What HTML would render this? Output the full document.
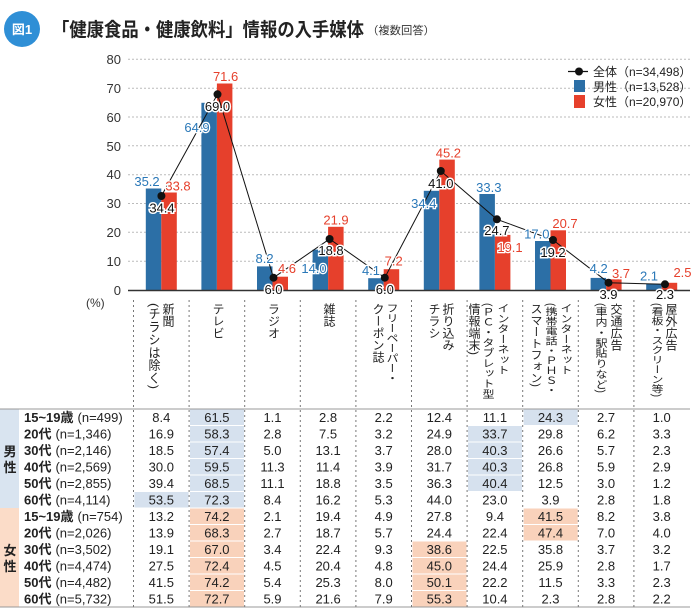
<!DOCTYPE html>
<html><head><meta charset="utf-8"><style>
html,body{margin:0;padding:0;background:#fff;}
svg{display:block;font-family:"Liberation Sans","Noto Sans CJK JP",sans-serif;}
</style></head><body>
<svg width="700" height="615" viewBox="0 0 700 615" xmlns="http://www.w3.org/2000/svg">
<!-- title -->
<circle cx="22" cy="29" r="18" fill="#2f8fd6"/>
<text x="22" y="34" font-size="13" font-weight="bold" fill="#fff" text-anchor="middle">図1</text>
<text x="52" y="36" font-size="19" font-weight="bold" fill="#222" textLength="312" lengthAdjust="spacingAndGlyphs">「健康食品・健康飲料」情報の入手媒体</text>
<text x="367" y="34" font-size="11" fill="#333" textLength="68" lengthAdjust="spacingAndGlyphs">（複数回答）</text>

<!-- gridlines -->
<g stroke="#bbb" stroke-width="1" stroke-dasharray="2,2">
<line x1="128" x2="690" y1="59.3" y2="59.3"/><line x1="128" x2="690" y1="88.2" y2="88.2"/>
<line x1="128" x2="690" y1="117" y2="117"/><line x1="128" x2="690" y1="145.8" y2="145.8"/>
<line x1="128" x2="690" y1="174.7" y2="174.7"/><line x1="128" x2="690" y1="203.5" y2="203.5"/>
<line x1="128" x2="690" y1="232.3" y2="232.3"/><line x1="128" x2="690" y1="261.2" y2="261.2"/>
</g>
<g font-size="13" fill="#333" text-anchor="end">
<text x="121" y="64">80</text><text x="121" y="93">70</text><text x="121" y="122">60</text>
<text x="121" y="151">50</text><text x="121" y="179">40</text><text x="121" y="208">30</text>
<text x="121" y="237">20</text><text x="121" y="266">10</text><text x="121" y="295">0</text>
</g>
<text x="86" y="307" font-size="12" fill="#333">(%)</text>

<!-- bars -->
<g fill="#2c6fa6">
<rect x="145.8" y="188.5" width="15.5" height="101.5"/>
<rect x="201.4" y="102.8" width="15.5" height="187.2"/>
<rect x="257" y="266.4" width="15.5" height="23.6"/>
<rect x="312.6" y="249.6" width="15.5" height="40.4"/>
<rect x="368.2" y="278.2" width="15.5" height="11.8"/>
<rect x="423.8" y="190.8" width="15.5" height="99.2"/>
<rect x="479.4" y="194" width="15.5" height="96"/>
<rect x="535" y="241" width="15.5" height="49"/>
<rect x="590.6" y="277.9" width="15.5" height="12.1"/>
<rect x="646.2" y="283.9" width="15.5" height="6.1"/>
</g>
<g fill="#e6402c">
<rect x="161.3" y="192.5" width="15.5" height="97.5"/>
<rect x="216.9" y="83.5" width="15.5" height="206.5"/>
<rect x="272.5" y="276.7" width="15.5" height="13.3"/>
<rect x="328.1" y="226.8" width="15.5" height="63.2"/>
<rect x="383.7" y="269.2" width="15.5" height="20.8"/>
<rect x="439.3" y="159.6" width="15.5" height="130.4"/>
<rect x="494.9" y="234.9" width="15.5" height="55.1"/>
<rect x="550.5" y="230.3" width="15.5" height="59.7"/>
<rect x="606.1" y="279.3" width="15.5" height="10.7"/>
<rect x="661.7" y="282.8" width="15.5" height="7.2"/>
</g>
<line x1="128" x2="690" y1="290.5" y2="290.5" stroke="#333" stroke-width="1.5"/>

<!-- total line -->
<polyline fill="none" stroke="#111" stroke-width="1" points="161.4,196 217.5,94.3 273.5,277.7 329.6,239 384.8,277.7 440.8,171 496.9,219.3 553,240 608.5,282.7 665,284.3"/>
<g fill="#111">
<circle cx="161.4" cy="196" r="4"/><circle cx="217.5" cy="94.3" r="4"/><circle cx="273.5" cy="277.7" r="4"/>
<circle cx="329.6" cy="239" r="4"/><circle cx="384.8" cy="277.7" r="4"/><circle cx="440.8" cy="171" r="4"/>
<circle cx="496.9" cy="219.3" r="4"/><circle cx="553" cy="240" r="4"/><circle cx="608.5" cy="282.7" r="4"/>
<circle cx="665" cy="284.3" r="4"/>
</g>

<!-- value labels -->
<g font-size="13" text-anchor="middle" fill="#2a78b8" stroke="#fff" stroke-width="2.5" paint-order="stroke">
<text x="147" y="186">35.2</text><text x="197" y="132">64.9</text><text x="264.6" y="263">8.2</text>
<text x="314" y="273">14.0</text><text x="371" y="275">4.1</text><text x="423.8" y="208">34.4</text>
<text x="488.8" y="192">33.3</text><text x="536.8" y="238.5">17.0</text><text x="598.7" y="273">4.2</text>
<text x="649" y="280.5">2.1</text>
</g>
<g font-size="13" text-anchor="middle" fill="#e6402c" stroke="#fff" stroke-width="2.5" paint-order="stroke">
<text x="178" y="190.5">33.8</text><text x="225.6" y="81">71.6</text><text x="287" y="273">4.6</text>
<text x="336" y="224.5">21.9</text><text x="393.7" y="265.5">7.2</text><text x="448.4" y="157.5">45.2</text>
<text x="510" y="252">19.1</text><text x="565" y="228">20.7</text><text x="621" y="278">3.7</text>
<text x="682.5" y="277">2.5</text>
</g>
<g font-size="13" text-anchor="middle" fill="#111" stroke="#fff" stroke-width="3" paint-order="stroke">
<text x="162" y="212.5">34.4</text><text x="217.5" y="111">69.0</text><text x="273.5" y="294">6.0</text>
<text x="331" y="255">18.8</text><text x="384.8" y="294">6.0</text><text x="440.8" y="188">41.0</text>
<text x="496.9" y="235">24.7</text><text x="553" y="257">19.2</text><text x="608.5" y="299">3.9</text>
<text x="665" y="299">2.3</text>
</g>

<!-- legend -->
<line x1="568" x2="588" y1="71.5" y2="71.5" stroke="#111" stroke-width="1.2"/>
<circle cx="579" cy="71.5" r="4" fill="#111"/>
<rect x="574" y="80" width="11" height="12" fill="#2c6fa6"/>
<rect x="574" y="95" width="11" height="13" fill="#e6402c"/>
<g font-size="12" fill="#222">
<text x="593" y="76">全体（n=34,498）</text>
<text x="593" y="91">男性（n=13,528）</text>
<text x="593" y="106">女性（n=20,970）</text>
</g>

<!-- table backgrounds -->
<rect x="0" y="409" width="19" height="99" fill="#d9e4f0"/>
<rect x="0" y="508" width="19" height="99" fill="#fbdcc8"/>
<g fill="#d6e1ee">
<rect x="190" y="409.5" width="54" height="15.5"/><rect x="190" y="426" width="54" height="15.5"/>
<rect x="190" y="442.5" width="54" height="15.5"/><rect x="190" y="459" width="54" height="15.5"/>
<rect x="190" y="475.5" width="54" height="15.5"/><rect x="190" y="492" width="54" height="15.5"/>
<rect x="134.5" y="492" width="54" height="15.5"/>
<rect x="523.7" y="409.5" width="54" height="15.5"/>
<rect x="468" y="426" width="54" height="15.5"/><rect x="468" y="442.5" width="54" height="15.5"/>
<rect x="468" y="459" width="54" height="15.5"/><rect x="468" y="475.5" width="54" height="15.5"/>
</g>
<g fill="#f9d2bb">
<rect x="190" y="508.5" width="54" height="15.5"/><rect x="190" y="525" width="54" height="15.5"/>
<rect x="190" y="541.5" width="54" height="15.5"/><rect x="190" y="558" width="54" height="15.5"/>
<rect x="190" y="574.5" width="54" height="15.5"/><rect x="190" y="591" width="54" height="15.5"/>
<rect x="523.7" y="508.5" width="54" height="15.5"/><rect x="523.7" y="525" width="54" height="15.5"/>
<rect x="412.5" y="541.5" width="54" height="15.5"/><rect x="412.5" y="558" width="54" height="15.5"/>
<rect x="412.5" y="574.5" width="54" height="15.5"/><rect x="412.5" y="591" width="54" height="15.5"/>
</g>
<line x1="0" x2="690" y1="409" y2="409" stroke="#999" stroke-width="1"/>
<line x1="0" x2="690" y1="607" y2="607" stroke="#999" stroke-width="1"/>

<!-- dividers -->
<g stroke="#777" stroke-width="1" stroke-dasharray="2,3">
<line x1="133.5" x2="133.5" y1="300" y2="607"/><line x1="189.1" x2="189.1" y1="300" y2="607"/>
<line x1="244.7" x2="244.7" y1="300" y2="607"/><line x1="300.3" x2="300.3" y1="300" y2="607"/>
<line x1="355.9" x2="355.9" y1="300" y2="607"/><line x1="411.5" x2="411.5" y1="300" y2="607"/>
<line x1="467.1" x2="467.1" y1="300" y2="607"/><line x1="522.7" x2="522.7" y1="300" y2="607"/>
<line x1="578.3" x2="578.3" y1="300" y2="607"/><line x1="633.9" x2="633.9" y1="300" y2="607"/>
</g>

<!-- category labels (vertical) -->
<g font-size="12" fill="#222" style="writing-mode:vertical-rl">
<text x="168" y="303">新聞</text>
<text x="154" y="303" textLength="86" lengthAdjust="spacingAndGlyphs">(チラシは除く)</text>
<text x="218" y="303">テレビ</text>
<text x="273.5" y="303">ラジオ</text>
<text x="329" y="303">雑誌</text>
<text x="392" y="303" textLength="80" lengthAdjust="spacingAndGlyphs">フリーペーパー・</text>
<text x="378" y="303">クーポン誌</text>
<text x="448" y="303">折り込み</text>
<text x="434" y="303">チラシ</text>
<text x="503" y="303" textLength="72" lengthAdjust="spacingAndGlyphs">インターネット</text>
<text x="488" y="303" textLength="96" lengthAdjust="spacingAndGlyphs">(ＰＣ・タブレット型</text>
<text x="474" y="303">情報端末)</text>
<text x="566" y="303" textLength="72" lengthAdjust="spacingAndGlyphs">インターネット</text>
<text x="551" y="303" textLength="92" lengthAdjust="spacingAndGlyphs">(携帯電話・ＰＨＳ・</text>
<text x="536" y="303" textLength="84" lengthAdjust="spacingAndGlyphs">スマートフォン)</text>
<text x="616" y="303">交通広告</text>
<text x="601" y="303" textLength="90" lengthAdjust="spacingAndGlyphs">(車内・駅貼りなど)</text>
<text x="671" y="303">屋外広告</text>
<text x="657" y="303" textLength="94" lengthAdjust="spacingAndGlyphs">(看板・スクリーン等)</text>
</g>

<!-- sex labels -->
<g font-size="13" font-weight="bold" fill="#222" text-anchor="middle">
<text x="10" y="456">男</text><text x="10" y="472">性</text>
<text x="10" y="555">女</text><text x="10" y="571">性</text>
</g>

<!-- row labels -->
<g font-size="13" fill="#222">
<text x="24" y="422"><tspan font-weight="bold">15~19歳</tspan><tspan dx="4">(n=499)</tspan></text>
<text x="24" y="438.5"><tspan font-weight="bold">20代</tspan><tspan dx="4">(n=1,346)</tspan></text>
<text x="24" y="455"><tspan font-weight="bold">30代</tspan><tspan dx="4">(n=2,146)</tspan></text>
<text x="24" y="471.5"><tspan font-weight="bold">40代</tspan><tspan dx="4">(n=2,569)</tspan></text>
<text x="24" y="488"><tspan font-weight="bold">50代</tspan><tspan dx="4">(n=2,855)</tspan></text>
<text x="24" y="504.5"><tspan font-weight="bold">60代</tspan><tspan dx="4">(n=4,114)</tspan></text>
<text x="24" y="521"><tspan font-weight="bold">15~19歳</tspan><tspan dx="4">(n=754)</tspan></text>
<text x="24" y="537.5"><tspan font-weight="bold">20代</tspan><tspan dx="4">(n=2,026)</tspan></text>
<text x="24" y="554"><tspan font-weight="bold">30代</tspan><tspan dx="4">(n=3,502)</tspan></text>
<text x="24" y="570.5"><tspan font-weight="bold">40代</tspan><tspan dx="4">(n=4,474)</tspan></text>
<text x="24" y="587"><tspan font-weight="bold">50代</tspan><tspan dx="4">(n=4,482)</tspan></text>
<text x="24" y="603.5"><tspan font-weight="bold">60代</tspan><tspan dx="4">(n=5,732)</tspan></text>
</g>

<!-- values -->
<g font-size="13" fill="#222" text-anchor="middle">
<g transform="translate(0,422)"><text x="161.3">8.4</text><text x="216.9">61.5</text><text x="272.5">1.1</text><text x="328.1">2.8</text><text x="383.7">2.2</text><text x="439.3">12.4</text><text x="494.9">11.1</text><text x="550.5">24.3</text><text x="606.1">2.7</text><text x="661.7">1.0</text></g>
<g transform="translate(0,438.5)"><text x="161.3">16.9</text><text x="216.9">58.3</text><text x="272.5">2.8</text><text x="328.1">7.5</text><text x="383.7">3.2</text><text x="439.3">24.9</text><text x="494.9">33.7</text><text x="550.5">29.8</text><text x="606.1">6.2</text><text x="661.7">3.3</text></g>
<g transform="translate(0,455)"><text x="161.3">18.5</text><text x="216.9">57.4</text><text x="272.5">5.0</text><text x="328.1">13.1</text><text x="383.7">3.7</text><text x="439.3">28.0</text><text x="494.9">40.3</text><text x="550.5">26.6</text><text x="606.1">5.7</text><text x="661.7">2.3</text></g>
<g transform="translate(0,471.5)"><text x="161.3">30.0</text><text x="216.9">59.5</text><text x="272.5">11.3</text><text x="328.1">11.4</text><text x="383.7">3.9</text><text x="439.3">31.7</text><text x="494.9">40.3</text><text x="550.5">26.8</text><text x="606.1">5.9</text><text x="661.7">2.9</text></g>
<g transform="translate(0,488)"><text x="161.3">39.4</text><text x="216.9">68.5</text><text x="272.5">11.1</text><text x="328.1">18.8</text><text x="383.7">3.5</text><text x="439.3">36.3</text><text x="494.9">40.4</text><text x="550.5">12.5</text><text x="606.1">3.0</text><text x="661.7">1.2</text></g>
<g transform="translate(0,504.5)"><text x="161.3">53.5</text><text x="216.9">72.3</text><text x="272.5">8.4</text><text x="328.1">16.2</text><text x="383.7">5.3</text><text x="439.3">44.0</text><text x="494.9">23.0</text><text x="550.5">3.9</text><text x="606.1">2.8</text><text x="661.7">1.8</text></g>
<g transform="translate(0,521)"><text x="161.3">13.2</text><text x="216.9">74.2</text><text x="272.5">2.1</text><text x="328.1">19.4</text><text x="383.7">4.9</text><text x="439.3">27.8</text><text x="494.9">9.4</text><text x="550.5">41.5</text><text x="606.1">8.2</text><text x="661.7">3.8</text></g>
<g transform="translate(0,537.5)"><text x="161.3">13.9</text><text x="216.9">68.3</text><text x="272.5">2.7</text><text x="328.1">18.7</text><text x="383.7">5.7</text><text x="439.3">24.4</text><text x="494.9">22.4</text><text x="550.5">47.4</text><text x="606.1">7.0</text><text x="661.7">4.0</text></g>
<g transform="translate(0,554)"><text x="161.3">19.1</text><text x="216.9">67.0</text><text x="272.5">3.4</text><text x="328.1">22.4</text><text x="383.7">9.3</text><text x="439.3">38.6</text><text x="494.9">22.5</text><text x="550.5">35.8</text><text x="606.1">3.7</text><text x="661.7">3.2</text></g>
<g transform="translate(0,570.5)"><text x="161.3">27.5</text><text x="216.9">72.4</text><text x="272.5">4.5</text><text x="328.1">20.4</text><text x="383.7">4.8</text><text x="439.3">45.0</text><text x="494.9">24.4</text><text x="550.5">25.9</text><text x="606.1">2.8</text><text x="661.7">1.7</text></g>
<g transform="translate(0,587)"><text x="161.3">41.5</text><text x="216.9">74.2</text><text x="272.5">5.4</text><text x="328.1">25.3</text><text x="383.7">8.0</text><text x="439.3">50.1</text><text x="494.9">22.2</text><text x="550.5">11.5</text><text x="606.1">3.3</text><text x="661.7">2.3</text></g>
<g transform="translate(0,603.5)"><text x="161.3">51.5</text><text x="216.9">72.7</text><text x="272.5">5.9</text><text x="328.1">21.6</text><text x="383.7">7.9</text><text x="439.3">55.3</text><text x="494.9">10.4</text><text x="550.5">2.3</text><text x="606.1">2.8</text><text x="661.7">2.2</text></g>
</g>
</svg>
</body></html>
